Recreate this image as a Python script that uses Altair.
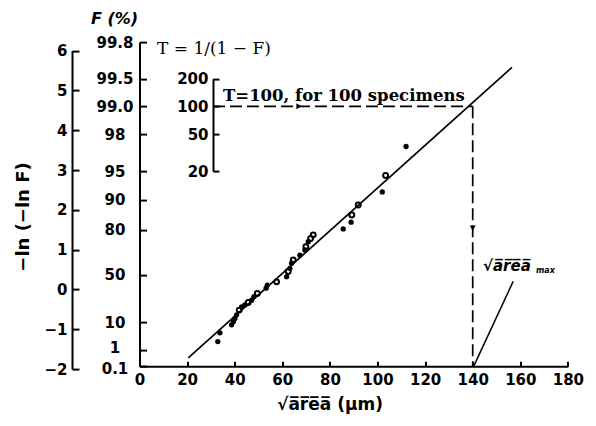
import math
import altair as alt
import pandas as pd

# ---------------- data ----------------
sqrt_area = [32.9, 33.8, 38.7, 39.4, 40.1, 40.8, 41.9, 42.9, 44.3, 45.7, 47.1, 48.1,
             49.5, 53.2, 53.7, 57.6, 61.8, 62.5, 63.2, 63.9, 64.6, 67.4, 69.5, 69.9,
             70.9, 71.9, 73.0, 85.6, 88.9, 89.2, 91.9, 102.0, 103.4, 112.0]
reduced_variate = [-1.31, -1.09, -0.89, -0.81, -0.73, -0.64, -0.52, -0.44, -0.39, -0.33,
                   -0.27, -0.18, -0.10, 0.03, 0.11, 0.19, 0.32, 0.45, 0.53, 0.66, 0.74,
                   0.86, 0.99, 1.07, 1.20, 1.28, 1.37, 1.52, 1.69, 1.87, 2.12, 2.45,
                   2.86, 3.59]
marker = ["filled", "filled", "filled", "filled", "filled", "filled", "open", "filled",
          "filled", "open", "filled", "filled", "open", "filled", "filled", "open",
          "filled", "open", "filled", "filled", "open", "filled", "filled", "open",
          "filled", "open", "open", "filled", "filled", "open", "open", "filled",
          "open", "filled"]

fit_sqrt_area = [20.5, 156.5]
fit_reduced = [-1.72, 5.58]

x_tick_values = [0, 20, 40, 60, 80, 100, 120, 140, 160, 180]
lnln_tick_values = [-2, -1, 0, 1, 2, 3, 4, 5, 6]
F_tick_labels = ["99.8", "99.5", "99.0", "98", "95", "90", "80", "50", "10", "1", "0.1"]
T_tick_labels = ["200", "100", "50", "20"]

T_design = 100
sqrt_area_max = 140


def reduced(F):
    return -math.log(-math.log(F))


F_pos = [reduced(float(s) / 100) for s in F_tick_labels]
T_pos = [reduced(1 - 1 / float(s)) for s in T_tick_labels]
y_T = reduced(1 - 1 / T_design)

# ---------------- geometry ----------------
W = 428.4
UNIT = 39.8
Y_LO, Y_HI = -2.0, F_pos[0]
H = (Y_HI - Y_LO) * UNIT
PAGE_LEFT = 139.5
PAGE_TOP = 369 - H
T_AXIS_PX = 73.5
LNLN_AXIS_PX = -67.5


def ypx(v):
    return H - (v - Y_LO) * UNIT


def rel(px, py):
    return px - PAGE_LEFT, py - PAGE_TOP


xs = alt.Scale(domain=[0, 180], nice=False, zero=False)
ys = alt.Scale(domain=[Y_LO, Y_HI], nice=False, zero=False)

LABEL = dict(labelFont="DejaVu Sans", labelFontSize=15, labelFontWeight="bold",
             labelColor="black")
LINE = dict(domainColor="black", domainWidth=2, tickColor="black", tickWidth=2,
            grid=False, title=None, labelOverlap=False, labelFlush=False, labelBound=False)


def label_expr(values, labels):
    parts = [f"abs(datum.value - ({v:.6f})) < 0.0001 ? '{l}'" for v, l in zip(values, labels)]
    return " : ".join(parts) + " : ''"


x_axis = alt.Axis(orient="top", offset=-ypx(F_pos[-1]), values=x_tick_values, tickSize=5,
                  labelBaseline="top", labelAlign="center", labelPadding=-(5 + 6),
                  format="d", **LABEL, **LINE)


def X(field=None, datum=None):
    if datum is not None:
        return alt.X(datum=datum, scale=xs, axis=x_axis)
    return alt.X(field, type="quantitative", scale=xs, axis=x_axis)


def Y(field=None, datum=None):
    if datum is not None:
        return alt.Y(datum=datum, scale=ys, axis=None)
    return alt.Y(field, type="quantitative", scale=ys, axis=None)


pts = pd.DataFrame({"sqrt_area": sqrt_area, "y": reduced_variate, "marker": marker})
fit = pd.DataFrame({"sqrt_area": fit_sqrt_area, "y": fit_reduced})

fit_line = alt.Chart(fit).mark_line(color="black", strokeWidth=1.7).encode(
    x=X("sqrt_area"), y=Y("y"))

filled_pts = alt.Chart(pts).transform_filter("datum.marker == 'filled'").mark_circle(
    size=28, color="black", opacity=1).encode(x=X("sqrt_area"), y=Y("y"))
open_pts = alt.Chart(pts).transform_filter("datum.marker == 'open'").mark_point(
    size=24, filled=False, stroke="black", strokeWidth=2, opacity=1).encode(
    x=X("sqrt_area"), y=Y("y"))

h_dash = pd.DataFrame({"sqrt_area": [T_AXIS_PX * 180 / W, sqrt_area_max], "y": [y_T, y_T]})
v_dash = pd.DataFrame({"sqrt_area": [sqrt_area_max, sqrt_area_max], "y": [y_T, F_pos[-1]]})


def dashed(df):
    return alt.Chart(df).mark_line(color="black", strokeWidth=1.7, strokeDash=[12, 5]).encode(
        x=X("sqrt_area"), y=Y("y"))


one = pd.DataFrame({"k": [0]})


def arrow(shape, xv, yv):
    return alt.Chart(one).mark_point(shape=shape, filled=True, size=35, color="black",
                                     opacity=1).encode(x=X(datum=xv), y=Y(datum=yv))


leader = pd.DataFrame({"sqrt_area": [sqrt_area_max + 0.4, 157.0], "y": [F_pos[-1], 0.2]})
leader_line = alt.Chart(leader).mark_line(color="black", strokeWidth=1.5).encode(
    x=X("sqrt_area"), y=Y("y"))


def data_text(txt, xv, yv, **kw):
    return alt.Chart(one).mark_text(color="black", **kw).encode(
        x=X(datum=xv), y=Y(datum=yv), text=alt.value(txt))


def px_text(txt, px, py, **kw):
    rx, ry = rel(px, py)
    return alt.Chart(one).mark_text(color="black", **kw).encode(
        x=alt.value(rx), y=alt.value(ry), text=alt.value(txt))


OVER = "\u0305"
area_over = "".join(c + OVER for c in "area")

texts = [
    data_text("T=100, for 100 specimens", 35.1, y_T, dy=-5, align="left",
              baseline="alphabetic", font="DejaVu Serif", fontSize=16.5, fontWeight="bold"),
    data_text("\u221a" + area_over, 144.3, 0.6, align="left", baseline="middle",
              font="DejaVu Sans", fontSize=15, fontWeight="bold", fontStyle="italic"),
    data_text("max", 166.6, 0.45, align="left", baseline="middle",
              font="DejaVu Sans", fontSize=8, fontWeight="bold", fontStyle="italic"),
    px_text("F (%)", 114.5, 19, align="center", baseline="middle",
            font="DejaVu Sans", fontSize=16, fontWeight="bold", fontStyle="italic"),
    px_text("T = 1/(1 \u2212 F)", 157, 49, align="left", baseline="middle",
            font="DejaVu Serif", fontSize=17),
    px_text("\u2212ln (\u2212ln F)", 24, 217, align="center", baseline="middle", angle=270,
            font="DejaVu Sans", fontSize=18, fontWeight="bold"),
    px_text("\u221a" + area_over + "   (\u03bcm)", 330, 405, align="center", baseline="middle",
            font="DejaVu Sans", fontSize=17, fontWeight="bold"),
]

data_layer = alt.layer(
    fit_line, filled_pts, open_pts, dashed(h_dash), dashed(v_dash),
    arrow("triangle-right", 67.0, y_T), arrow("triangle-down", sqrt_area_max, 1.54),
    leader_line, *texts,
)

# ----- extra vertical axes -----
lnln_df = pd.DataFrame({"v": lnln_tick_values})
lnln_axis = alt.Chart(lnln_df).mark_point(opacity=0).encode(
    y=alt.Y("v:Q", scale=alt.Scale(domain=[-2, 6], range=[ypx(-2), ypx(6)], nice=False,
                                    zero=False),
            axis=alt.Axis(orient="right", offset=-(W - LNLN_AXIS_PX), values=lnln_tick_values,
                          tickSize=7, labelAlign="right", labelBaseline="middle",
                          labelPadding=-(7 + 5), format="d", **LABEL, **LINE)))

F_df = pd.DataFrame({"v": F_pos})
F_offset = {"condition": [
    {"test": f"abs(datum.value - ({F_pos[-1]:.6f})) < 0.0001", "value": 2.5},
    {"test": f"abs(datum.value - ({F_pos[-2]:.6f})) < 0.0001", "value": -2.5}],
    "value": 0}
F_axis = alt.Chart(F_df).mark_point(opacity=0).encode(
    y=alt.Y("v:Q", scale=alt.Scale(domain=[F_pos[-1], F_pos[0]],
                                    range=[ypx(F_pos[-1]), ypx(F_pos[0])], nice=False,
                                    zero=False),
            axis=alt.Axis(orient="right", offset=-W, values=F_pos, tickSize=7,
                          labelAlign="center", labelBaseline="middle", labelOffset=F_offset,
                          labelPadding=-(7 + 25), labelExpr=label_expr(F_pos, F_tick_labels),
                          **LABEL, **LINE)))

T_df = pd.DataFrame({"v": T_pos})
T_axis = alt.Chart(T_df).mark_point(opacity=0).encode(
    y=alt.Y("v:Q", scale=alt.Scale(domain=[T_pos[-1], T_pos[0]],
                                    range=[ypx(T_pos[-1]), ypx(T_pos[0])], nice=False,
                                    zero=False),
            axis=alt.Axis(orient="right", offset=-(W - T_AXIS_PX), values=T_pos, tickSize=6,
                          labelAlign="right", labelBaseline="middle",
                          labelPadding=-(6 + 5), labelExpr=label_expr(T_pos, T_tick_labels),
                          **LABEL, **LINE)))

chart = alt.layer(data_layer, lnln_axis, F_axis, T_axis).resolve_scale(
    y="independent").resolve_axis(y="independent").properties(
    width=W, height=H, autosize=alt.AutoSizeParams(type="none"),
    padding={"left": PAGE_LEFT - 8, "top": PAGE_TOP - 8,
             "right": 596 - 16 - (PAGE_LEFT - 8) - W,
             "bottom": 426 - 16 - (PAGE_TOP - 8) - H},
).configure_view(stroke=None)

chart.save("out.html", embed_options={"renderer": "svg", "actions": False})
